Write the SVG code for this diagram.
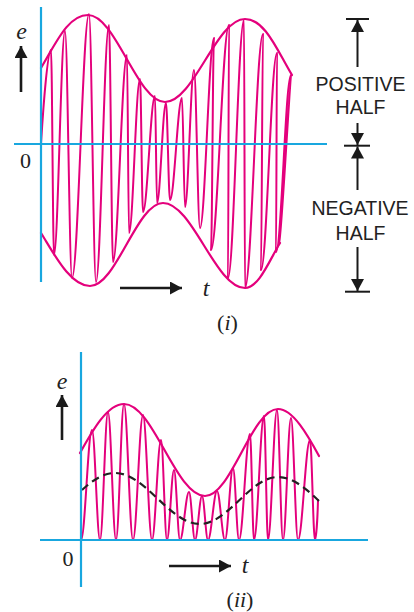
<svg xmlns="http://www.w3.org/2000/svg" width="414" height="612" viewBox="0 0 414 612">
<style>
.wave{fill:none;stroke:#e4007c;stroke-width:2;stroke-linejoin:round;stroke-linecap:round}
.env{fill:none;stroke:#e4007c;stroke-width:2.2;stroke-linecap:round}
.axis{fill:none;stroke:#19a7df;stroke-width:2.2}
.arr{fill:none;stroke:#1a1a1a;stroke-width:2.6;marker-end:url(#ah)}
.arr2{fill:none;stroke:#1a1a1a;stroke-width:2;marker-end:url(#ah)}
.bar{fill:none;stroke:#1a1a1a;stroke-width:2}
.dash{fill:none;stroke:#222;stroke-width:2.2;stroke-dasharray:8 5}
.it{font-family:"Liberation Serif","Times New Roman",serif;font-style:italic;font-size:24px;fill:#222}
.rm{font-family:"Liberation Serif","Times New Roman",serif;font-size:22px;fill:#222}
.lab{font-family:"Liberation Sans",Arial,sans-serif;font-size:19.5px;fill:#222;text-anchor:middle}
</style>
<defs>
<marker id="ah" markerUnits="userSpaceOnUse" markerWidth="14" markerHeight="14" refX="12" refY="6.5" orient="auto">
<path d="M0,0 L12,6.5 L0,13 z" fill="#1a1a1a"/>
</marker>
</defs>

<g id="panel-i">
<g id="carrier-i">
<path class="wave" d="M41,144 C44,95 48,50 51,50 C52.1,50 52.9,255 54,255 C58,255 61,31 65,31 C67.5,31 69.5,278 72,278 C78.1,278 82.9,14 89,14 C91.5,14 93.5,282 96,282 C100.7,282 104.3,25 109,25 C110.4,25 111.6,262 113,262 C118,262 122,55 127,55 C127.7,55 128.3,233 129,233 C133,233 136,79 140,79 C141.1,79 141.9,212 143,212 C147.3,212 150.7,96 155,96 C155.7,96 156.3,203 157,203 C160.2,203 162.8,103 166,103 C167.4,103 168.6,200 170,200 C174.3,200 177.7,98 182,98 C183.1,98 183.9,207 185,207 C188.2,207 190.8,70 194,70 C196.2,70 197.8,228 200,228 C205,228 209,38 214,38 C212.9,38 212.1,250 211,250 C217.5,250 222.5,25 229,25 C228.6,25 228.4,278 228,278 C233.8,278 238.2,20 244,20 C244.4,20 244.6,288 245,288 C251.5,288 256.5,34 263,34 C262.3,34 261.7,270 261,270 C266.8,270 271.2,53 277,53 C276.6,53 276.4,252 276,252 C281.4,252 285.6,75 291,75 C290.5,75 280.5,242 280,242"/>
</g>
<g id="envelope-i">
<path class="env" d="M41,68 C56,43 68,15 88,15 C115.7,15 137.3,102 165,102 C193.8,102 216.2,19 245,19 C265,19 277,50 292,75"/>
<path class="env" d="M41,233 C53,252 70,286 90,286 C116.3,286 136.7,203 163,203 C192.5,203 215.5,288 245,288 C259,288 270,259 280,243"/>
</g>
<g id="axes-i">
<line class="axis" x1="41" y1="7" x2="41" y2="282"/>
<line class="axis" x1="14" y1="144" x2="327" y2="144"/>
</g>
<g id="labels-i">
<text class="it" x="21.5" y="39" text-anchor="middle">e</text>
<line class="arr" x1="21" y1="92" x2="21" y2="46"/>
<text class="rm" x="25.5" y="168" text-anchor="middle">0</text>
<line class="arr" x1="120" y1="288" x2="182" y2="288"/>
<text class="it" x="206" y="296" text-anchor="middle">t</text>
<text class="rm" x="227.5" y="330" text-anchor="middle">(<tspan font-style="italic">i</tspan>)</text>
</g>
<g id="half-annotation">
<line class="bar" x1="346" y1="19" x2="369" y2="19"/>
<line class="arr2" x1="357.5" y1="67" x2="357.5" y2="20"/>
<text class="lab" x="360.5" y="91">POSITIVE</text>
<text class="lab" x="360.5" y="114">HALF</text>
<line class="arr2" x1="357.5" y1="123" x2="357.5" y2="145"/>
<line class="bar" x1="344" y1="145.7" x2="370" y2="145.7"/>
<line class="arr2" x1="357.5" y1="190" x2="357.5" y2="146.5"/>
<text class="lab" x="360" y="215">NEGATIVE</text>
<text class="lab" x="360.5" y="240">HALF</text>
<line class="arr2" x1="357.5" y1="247" x2="357.5" y2="291"/>
<line class="bar" x1="345" y1="291.7" x2="370" y2="291.7"/>
</g>
</g>

<g id="panel-ii">
<g id="carrier-ii">
<path class="wave" d="M81,540 C85,540 88,430 92,430 C94.9,430 97.1,540 100,540 C102.9,540 105.1,412 108,412 C110.9,412 113.1,540 116,540 C118.9,540 121.1,404 124,404 C127.2,404 129.8,540 133,540 C136.6,540 139.4,415 143,415 C146.2,415 148.8,540 152,540 C155.2,540 157.8,440 161,440 C163.2,440 164.8,540 167,540 C169.5,540 171.5,470 174,470 C176.2,470 177.8,540 180,540 C183.2,540 185.8,492 189,492 C191.2,492 192.8,540 195,540 C197.5,540 199.5,496 202,496 C204.2,496 205.8,540 208,540 C211.2,540 213.8,491 217,491 C219.9,491 222.1,540 225,540 C227.9,540 230.1,468 233,468 C235.2,468 236.8,540 239,540 C243,540 246,434 250,434 C251.4,434 252.6,540 254,540 C257.6,540 260.4,416 264,416 C265.4,416 266.6,540 268,540 C271.2,540 273.8,410 277,410 C279.2,410 280.8,540 283,540 C285.9,540 288.1,418 291,418 C293.5,418 295.5,540 298,540 C302.3,540 305.7,440 310,440 C311.8,440 313.2,540 315,540 C316,540 317.5,520 318,500"/>
</g>
<g id="envelope-ii">
<path class="env" d="M80,453 C92,431.5 107,404 124,404 C153.2,404 175.8,496 205,496 C231.3,496 251.7,409 278,409 C293,409 308,435.5 319,456"/>
</g>
<g id="average-ii">
<path class="dash" d="M82,490 C92,480.8 103,473 115,473 C145.6,473 169.4,524 200,524 C228,524 250,477 278,477 C293,477 307,489.4 319,501"/>
</g>
<g id="axes-ii">
<line class="axis" x1="81" y1="352" x2="81" y2="587"/>
<line class="axis" x1="40" y1="540" x2="368" y2="540"/>
</g>
<g id="labels-ii">
<text class="it" x="62" y="389" text-anchor="middle">e</text>
<line class="arr" x1="62" y1="440" x2="62" y2="395"/>
<text class="rm" x="68" y="566" text-anchor="middle">0</text>
<line class="arr" x1="169" y1="566" x2="231" y2="566"/>
<text class="it" x="245" y="573" text-anchor="middle">t</text>
<text class="rm" x="240" y="607" text-anchor="middle">(<tspan font-style="italic">ii</tspan>)</text>
</g>
</g>
</svg>
